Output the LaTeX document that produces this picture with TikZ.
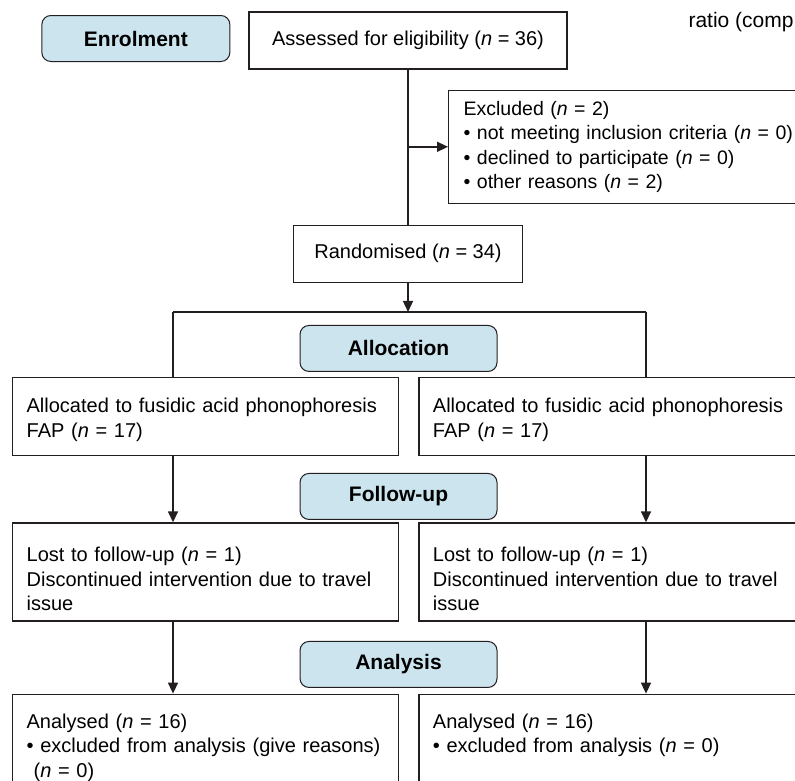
\documentclass[tikz,border=0pt]{standalone}
\usepackage{fontspec}
\setmainfont{Liberation Sans}
\usepackage{xcolor}
\usepackage{tikz}
\usetikzlibrary{arrows.meta, positioning}
\definecolor{ink}{RGB}{35,31,32}
\definecolor{phaseblue}{RGB}{204,228,238}
\newcommand{\bodyfont}{\fontsize{20}{24.5}\selectfont}
\tikzstyle{phase} = [rectangle, rounded corners=9pt, minimum width=197pt, minimum height=46pt, text centered, draw=ink, line width=1pt, fill=phaseblue, font=\fontsize{21}{24}\selectfont\bfseries]
\tikzstyle{entry} = [rectangle, minimum height=57pt, text centered, draw=ink, line width=1.3pt, font=\bodyfont]
\tikzstyle{infobox} = [rectangle, text width=340pt, align=left, inner xsep=15pt, minimum height=113pt, draw=ink, line width=1.3pt, font=\fontsize{19.5}{24.5}\selectfont]
\tikzstyle{armbox} = [rectangle, text width=358pt, align=left, inner xsep=14pt, inner ysep=6pt, text height=29pt, text depth=37pt, draw=ink, line width=1.3pt, font=\bodyfont]
\tikzstyle{link} = [line width=1.5pt, draw=ink]
\tikzstyle{arrow} = [line width=1.5pt, draw=ink, -{Triangle[length=11pt,width=10pt]}]

\begin{document}
\begin{tikzpicture}[x=1pt, y=1pt]
    \useasboundingbox (0,0) rectangle (795,-780);
    \fill[white] (0,0) rectangle (795,-780);
    \clip (0,0) rectangle (795,-780);

    % Enrolment
    \node[entry, minimum width=318pt] (assess) at (408,-40.5) {Assessed for eligibility (\textit{n} = 36)};
    \node[phase, minimum width=188pt, left=18pt of assess, yshift=2pt] (enrol) {Enrolment};
    \node[anchor=base west, font=\fontsize{21}{24}\selectfont] (ratiotxt) at (685,-27) {ratio (comp};
    \node[infobox, below right=20pt and 40pt of assess.south] (excl) {Excluded (\textit{n} = 2)\\
        • not meeting inclusion criteria (\textit{n} = 0)\\
        • declined to participate (\textit{n} = 0)\\
        • other reasons (\textit{n} = 2)};
    \node[entry, minimum width=229pt, below=155pt of assess] (rand) {Randomised (\textit{n} = 34)};
    \coordinate (exclsplit) at (assess.south |- excl.west);

    % Allocation
    \coordinate[below=29pt of rand] (fork);
    \coordinate (forkL) at ([xshift=-235pt]fork);
    \coordinate (forkR) at ([xshift=238pt]fork);
    \node[phase, below=42pt of rand, xshift=-9.5pt] (alloc) {Allocation};
    \node[armbox, anchor=north west] (allocA) at (12,-377) {Allocated to fusidic acid phonophoresis\\FAP (\textit{n} = 17)};
    \node[armbox, right=19pt of allocA] (allocB) {Allocated to fusidic acid phonophoresis\\FAP (\textit{n} = 17)};

    % Follow-up
    \node[phase, below=101pt of alloc] (follow) {Follow-up};
    \node[armbox, text height=33pt, text depth=53pt, below=66pt of allocA] (lostA) {Lost to follow-up (\textit{n} = 1)\\Discontinued intervention due to travel\\issue};
    \node[armbox, text height=33pt, text depth=53pt, right=19pt of lostA] (lostB) {Lost to follow-up (\textit{n} = 1)\\Discontinued intervention due to travel\\issue};

    % Analysis
    \node[phase, below=121pt of follow] (analysis) {Analysis};
    \node[armbox, text height=28pt, text depth=70pt, below=72pt of lostA] (anaA) {Analysed (\textit{n} = 16)\\
        • excluded from analysis (give reasons)\\
        \hspace*{7pt}(\textit{n} = 0)};
    \node[armbox, text height=28pt, text depth=70pt, right=19pt of anaA] (anaB) {Analysed (\textit{n} = 16)\\
        • excluded from analysis (\textit{n} = 0)};

    % Connections
    \draw[link] (assess.south) -- (rand.north);
    \draw[arrow] (exclsplit) -- (excl.west);
    \draw[arrow] (rand.south) -- (fork);
    \draw[link] (forkL) -- (forkR);
    \draw[link] (forkL) -- (forkL |- allocA.north);
    \draw[link] (forkR) -- (forkR |- allocB.north);
    \draw[arrow] (forkL |- allocA.south) -- (forkL |- lostA.north);
    \draw[arrow] (forkR |- allocB.south) -- (forkR |- lostB.north);
    \draw[arrow] (forkL |- lostA.south) -- (forkL |- anaA.north);
    \draw[arrow] (forkR |- lostB.south) -- (forkR |- anaB.north);

\end{tikzpicture}
\end{document}
